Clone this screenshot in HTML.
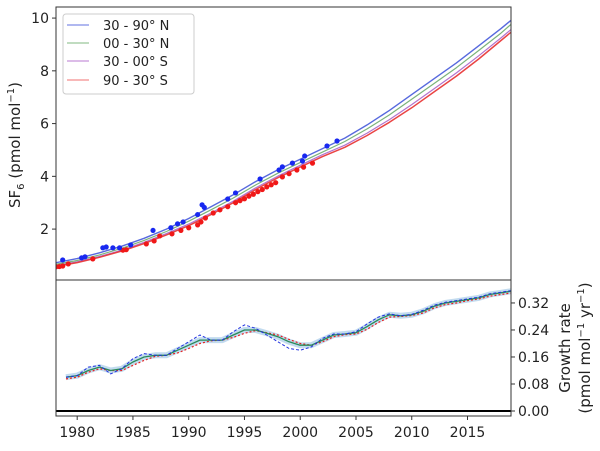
<!DOCTYPE html>
<html><head><meta charset="utf-8"><style>
body{margin:0;background:#fff;width:600px;height:446px;overflow:hidden}
svg{font-family:"DejaVu Sans","Liberation Sans",sans-serif}
</style></head><body>
<svg id="c" width="600" height="446"></svg>
<script>
const years=[1978,1980,1982,1984,1986,1988,1990,1992,1994,1996,1998,2000,2002,2004,2006,2008,2010,2012,2014,2016,2018,2019];
const nh=[0.72,0.88,1.1,1.35,1.65,2.0,2.4,2.85,3.3,3.8,4.25,4.65,5.05,5.45,5.95,6.5,7.1,7.7,8.3,8.95,9.6,9.95];
const tn=[0.66,0.81,1.02,1.27,1.57,1.91,2.3,2.73,3.18,3.67,4.12,4.52,4.92,5.32,5.8,6.33,6.92,7.52,8.12,8.77,9.43,9.8];
const ts=[0.61,0.76,0.96,1.2,1.5,1.83,2.19,2.61,3.06,3.56,4.01,4.42,4.82,5.18,5.64,6.15,6.72,7.32,7.92,8.57,9.25,9.6];
const sh=[0.58,0.73,0.93,1.17,1.45,1.78,2.13,2.55,3.0,3.5,3.95,4.35,4.75,5.1,5.55,6.05,6.6,7.2,7.8,8.45,9.15,9.5];
const blueDotX=[1978.7,1980.4,1980.7,1982.3,1982.6,1983.2,1983.8,1984.8,1986.8,1988.4,1989,1989.5,1990.8,1991.2,1991.4,1993.5,1994.2,1996.4,1998.1,1998.4,1999.3,2000.2,2000.4,2002.4,2003.3];
const blueDotY=[0.83,0.91,0.95,1.29,1.32,1.29,1.29,1.4,1.95,2.05,2.2,2.27,2.55,2.92,2.82,3.14,3.37,3.9,4.24,4.36,4.5,4.58,4.77,5.15,5.34];
const redDotX=[1978.1,1978.4,1978.7,1979.2,1981.4,1984.1,1984.4,1986.2,1986.9,1987.4,1988.5,1989.3,1990,1990.8,1991.1,1991.5,1992.2,1992.8,1993.5,1994.2,1994.6,1995,1995.4,1995.8,1996.2,1996.6,1997,1997.4,1997.8,1998.4,1999,1999.7,2000.3,2001.1];
const redDotY=[0.57,0.58,0.6,0.68,0.87,1.2,1.22,1.44,1.55,1.74,1.82,1.95,2.05,2.16,2.27,2.42,2.61,2.73,2.85,3.0,3.08,3.15,3.25,3.32,3.42,3.5,3.6,3.68,3.76,3.98,4.1,4.24,4.35,4.5];
const gYears=[1979,1980,1981,1982,1983,1984,1985,1986,1987,1988,1989,1990,1991,1992,1993,1994,1995,1996,1997,1998,1999,2000,2001,2002,2003,2004,2005,2006,2007,2008,2009,2010,2011,2012,2013,2014,2015,2016,2017,2018,2019];
const gMid=[0.10,0.105,0.12,0.13,0.12,0.125,0.145,0.16,0.165,0.165,0.18,0.195,0.21,0.21,0.21,0.225,0.24,0.24,0.23,0.22,0.205,0.195,0.195,0.21,0.225,0.228,0.232,0.25,0.27,0.285,0.282,0.285,0.295,0.31,0.32,0.325,0.33,0.335,0.345,0.35,0.355];
const gNH=[0.10,0.105,0.13,0.135,0.11,0.125,0.155,0.17,0.165,0.165,0.185,0.205,0.225,0.21,0.21,0.235,0.255,0.245,0.225,0.205,0.185,0.18,0.19,0.215,0.228,0.228,0.235,0.258,0.278,0.288,0.282,0.286,0.298,0.313,0.322,0.327,0.332,0.337,0.347,0.352,0.357];
const gSH=[0.095,0.10,0.115,0.125,0.12,0.12,0.135,0.15,0.162,0.165,0.172,0.185,0.2,0.208,0.21,0.218,0.23,0.238,0.232,0.225,0.212,0.2,0.195,0.205,0.22,0.226,0.228,0.242,0.262,0.278,0.28,0.283,0.29,0.305,0.315,0.32,0.327,0.332,0.34,0.345,0.35];
const topTicks=[2,4,6,8,10];
const botTicks=[0,0.08,0.16,0.24,0.32];
const xTicks=[1980,1985,1990,1995,2000,2005,2010,2015];

const S='http://www.w3.org/2000/svg',svg=document.getElementById('c');
const L=56,R=511,T1=7,B1=280,B2=416;
const X=y=>L+(y-1978.1)/(2018.9-1978.1)*(R-L);
const Y1=v=>B1-(v-0.07)/(10.42-0.07)*(B1-T1);
const Y2=v=>B2-(v+0.0148)/(0.388+0.0148)*(B2-B1);
function el(t,a,p){const e=document.createElementNS(S,t);for(const k in a)e.setAttribute(k,a[k]);(p||svg).appendChild(e);return e;}
const cp=el('clipPath',{id:'cl'});el('rect',{x:L,y:T1,width:R-L,height:B2-T1},cp);
const g=el('g',{'clip-path':'url(#cl)'});
function line(xs,ys,fx,fy,st,name){const d=xs.map((x,i)=>(i?'L':'M')+fx(x).toFixed(1)+','+fy(ys[i]).toFixed(1)).join('');const e=el('path',Object.assign({d:d,fill:'none','stroke-linejoin':'round'},st),g);return e;}
line(years,nh,X,Y1,{stroke:'#3a4fd8','stroke-width':1.4,opacity:0.85},'line-30-90n');
line(years,tn,X,Y1,{stroke:'#5aa05a','stroke-width':1.2,opacity:0.8},'line-00-30n');
line(years,ts,X,Y1,{stroke:'#a050c0','stroke-width':1.2,opacity:0.8},'line-30-00s');
line(years,sh,X,Y1,{stroke:'#e83030','stroke-width':1.5,opacity:0.9},'line-90-30s');
redDotX.forEach((x,i)=>{const c=el('circle',{cx:X(x),cy:Y1(redDotY[i]),r:2.6,fill:'#f01818'},g);});
blueDotX.forEach((x,i)=>{const c=el('circle',{cx:X(x),cy:Y1(blueDotY[i]),r:2.6,fill:'#1828f0'},g);});
line(gYears,gMid,X,Y2,{stroke:'#a8cce8','stroke-width':6,opacity:0.7},'growth-band');
line(gYears,gSH,X,Y2,{stroke:'#e82020','stroke-width':1.2,'stroke-dasharray':'2,2'},'growth-sh');
line(gYears,gMid,X,Y2,{stroke:'#2a8a5a','stroke-width':1.3},'growth-mid');
line(gYears,gNH,X,Y2,{stroke:'#2030e0','stroke-width':1,'stroke-dasharray':'3,2'},'growth-nh');
const z=el('line',{x1:L,x2:R,y1:Y2(0),y2:Y2(0),stroke:'#000','stroke-width':2});
el('rect',{x:L,y:T1,width:R-L,height:B1-T1,fill:'none',stroke:'#333','stroke-width':1});
el('rect',{x:L,y:B1,width:R-L,height:B2-B1,fill:'none',stroke:'#333','stroke-width':1});
topTicks.forEach(v=>{el('line',{x1:L-4,x2:L,y1:Y1(v),y2:Y1(v),stroke:'#333'});const t=el('text',{x:L-7,y:Y1(v)+5,'text-anchor':'end','font-size':14,fill:'#222'});t.textContent=v;});
botTicks.forEach(v=>{el('line',{x1:R,x2:R+4,y1:Y2(v),y2:Y2(v),stroke:'#333'});const t=el('text',{x:R+7,y:Y2(v)+5,'font-size':14,fill:'#222'});t.textContent=v.toFixed(2);});
xTicks.forEach(v=>{el('line',{x1:X(v),x2:X(v),y1:B2,y2:B2+4,stroke:'#333'});const t=el('text',{x:X(v),y:B2+21,'text-anchor':'middle','font-size':14,fill:'#222'});t.textContent=v;});
</script>
<svg style="position:absolute;left:0;top:0" width="600" height="446">
<text transform="translate(20,145) rotate(-90)" text-anchor="middle" font-size="15" fill="#222" font-family="DejaVu Sans,Liberation Sans,sans-serif">SF<tspan font-size="10" dy="4">6</tspan><tspan dy="-4"> (pmol mol</tspan><tspan font-size="10" dy="-6">−1</tspan><tspan dy="6">)</tspan></text>
<g font-size="15" fill="#222" font-family="DejaVu Sans,Liberation Sans,sans-serif" text-anchor="middle">
<text transform="translate(570,348) rotate(-90)">Growth rate</text>
<text transform="translate(590,348) rotate(-90)">(pmol mol<tspan font-size="10" dy="-6">−1</tspan><tspan dy="6"> yr</tspan><tspan font-size="10" dy="-6">−1</tspan><tspan dy="6">)</tspan></text>
</g>
<g font-family="DejaVu Sans,Liberation Sans,sans-serif" font-size="13" fill="#222">
<rect x="63" y="14" width="131" height="80" rx="3" fill="#fff" stroke="#ccc"/>
<g><line x1="67" x2="89" y1="25" y2="25" stroke="#6070e0"/><text x="103" y="30">30 - 90° N</text></g>
<g><line x1="67" x2="89" y1="43" y2="43" stroke="#80b880"/><text x="103" y="48">00 - 30° N</text></g>
<g><line x1="67" x2="89" y1="61" y2="61" stroke="#b878d0"/><text x="103" y="66">30 - 00° S</text></g>
<g><line x1="67" x2="89" y1="80" y2="80" stroke="#f07070"/><text x="103" y="85">90 - 30° S</text></g>
</g>
</svg>
</body></html>
